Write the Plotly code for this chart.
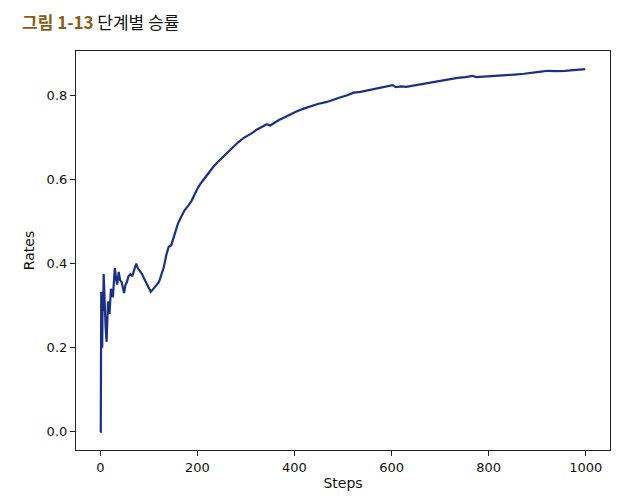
import plotly.graph_objects as go

steps = [0, 1, 2, 3, 4, 5, 6, 7, 9, 11, 13, 16, 19, 22, 26, 30, 33, 35, 38, 41, 44, 47, 49, 52, 55,
         58, 62, 66, 70, 74, 77, 80, 83, 86, 90, 95, 100, 104, 108, 114, 118, 121, 126, 131, 136,
         141, 146, 153, 160, 167, 174, 181, 188, 195, 201, 208, 215, 224, 233, 241, 250, 258, 267,
         275, 284, 295, 305, 314, 322, 332, 343, 350, 360, 368, 377, 390, 405, 419, 433, 448, 467,
         481, 495, 509, 522, 536, 550, 563, 577, 590, 602, 609, 620, 630, 640, 654, 667, 684, 702,
         719, 736, 752, 767, 774, 790, 812, 833, 853, 873, 894, 908, 922, 940, 957, 972, 988, 999]
rates = [0.0, 0.0, 0.333, 0.25, 0.2, 0.333, 0.286, 0.375, 0.3, 0.25, 0.214, 0.31, 0.28, 0.34, 0.32,
         0.39, 0.36, 0.35, 0.38, 0.36, 0.356, 0.34, 0.33, 0.35, 0.356, 0.37, 0.375, 0.37, 0.385,
         0.40, 0.39, 0.385, 0.38, 0.375, 0.365, 0.352, 0.34, 0.333, 0.338, 0.348, 0.352, 0.356,
         0.372, 0.392, 0.42, 0.44, 0.443, 0.47, 0.495, 0.512, 0.527, 0.537, 0.549, 0.566, 0.58,
         0.592, 0.603, 0.617, 0.63, 0.64, 0.65, 0.661, 0.67, 0.68, 0.688, 0.698, 0.704, 0.711,
         0.718, 0.724, 0.731, 0.728, 0.736, 0.741, 0.746, 0.754, 0.762, 0.768, 0.774, 0.779, 0.784,
         0.79, 0.795, 0.8, 0.806, 0.808, 0.811, 0.815, 0.818, 0.821, 0.824, 0.819, 0.821, 0.82,
         0.822, 0.825, 0.827, 0.831, 0.835, 0.838, 0.841, 0.843, 0.846, 0.843, 0.844, 0.845, 0.847,
         0.849, 0.851, 0.853, 0.856, 0.858, 0.857, 0.858, 0.859, 0.861, 0.862]

x_ticks = [0, 200, 400, 600, 800, 1000]
y_ticks = [0.0, 0.2, 0.4, 0.6, 0.8]
y_tick_labels = ["0.0", "0.2", "0.4", "0.6", "0.8"]

fig = go.Figure()
fig.add_trace(go.Scatter(x=steps, y=rates, mode="lines",
                         line=dict(color="#1b2f85", width=2.2), showlegend=False))

axis_common = dict(showline=True, mirror=True, linecolor="#222", linewidth=1.2,
                   ticks="outside", ticklen=5, tickcolor="#222", showgrid=False, zeroline=False,
                   automargin=False,
                   tickfont=dict(family="DejaVu Sans", size=13, color="#111"))

# page body has an 8px default margin, so the figure is sized to fit inside the window
fig.update_layout(
    width=626, height=493,
    margin=dict(l=68, r=24, t=43, b=51),
    paper_bgcolor="white", plot_bgcolor="white",
    title=dict(
        text="<b><span style='color:#8c5b16'>그림 1-13</span></b> 단계별 승률",
        x=14 / 626, xanchor="left", xref="container",
        y=1 - 15 / 493, yanchor="middle",
        font=dict(family="Noto Sans CJK KR", size=17, color="#111"),
    ),
    xaxis=dict(range=[-50, 1050], tickvals=x_ticks,
               title=dict(text="Steps", font=dict(family="DejaVu Sans", size=14, color="#111"),
                          standoff=4),
               **axis_common),
    yaxis=dict(range=[-0.043, 0.905], tickvals=y_ticks, ticktext=y_tick_labels,
               title=dict(text="Rates", font=dict(family="DejaVu Sans", size=14, color="#111"),
                          standoff=8),
               **axis_common),
)

fig.write_html("out.html")
